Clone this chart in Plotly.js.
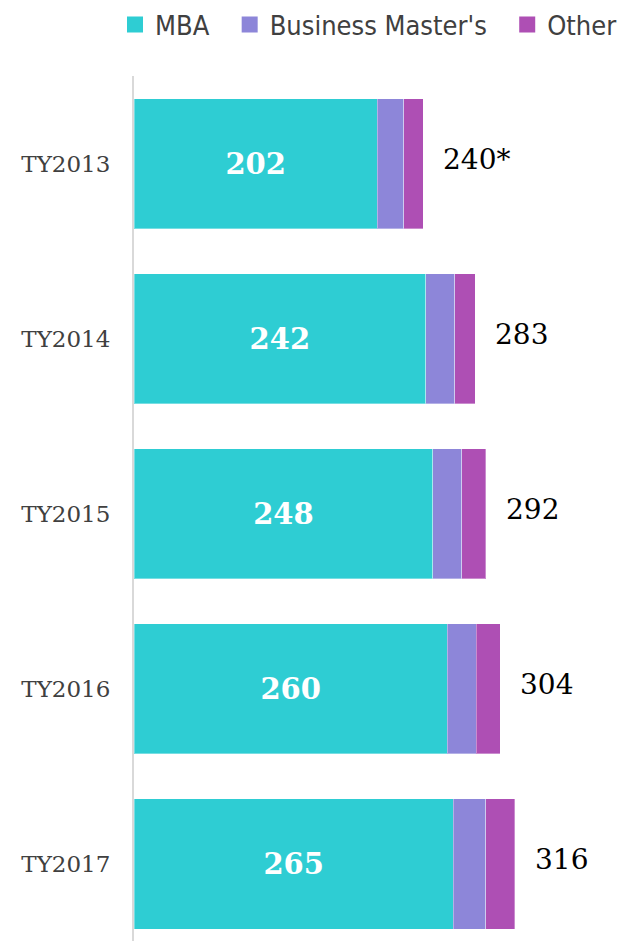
<!DOCTYPE html>
<html>
<head>
<meta charset="utf-8">
<script src="https://cdn.plot.ly/plotly-3.0.1.min.js"></script>
<style>
html,body{margin:0;padding:0;background:#fff;}
#chart{width:622px;height:941px;}
</style>
</head>
<body>
<div id="chart"></div>
<script>
const categories = ['TY2013','TY2014','TY2015','TY2016','TY2017'];
const mba = [202, 242, 248, 260, 265];
const businessMasters = [22, 24, 24, 24, 27];
const other = [16, 17, 20, 20, 24];
const totals = [240, 283, 292, 304, 316];
const totalNotes = ['*', '', '', '', ''];
const seriesNames = ['MBA', "Business Master's", 'Other'];
const colors = ['#2ECDD3', '#8D86D9', '#AE4FB4'];

const serif = '"DejaVu Serif", "Liberation Serif", serif';
const sans = '"DejaVu Sans Condensed", "Liberation Sans Narrow", "DejaVu Sans", sans-serif';

const segLine = {color: 'rgba(255,255,255,0.35)', width: 1};
const pad = '\u00A0\u00A0';

const barValues = [mba, businessMasters, other];
const traces = barValues.map((vals, k) => {
  const t = {
    type: 'bar', orientation: 'h', name: seriesNames[k],
    y: categories, x: vals,
    marker: {color: colors[k], line: segLine},
    showlegend: false, hoverinfo: 'none'
  };
  if (k === 0) {
    t.text = vals.map(String);
    t.textposition = 'inside';
    t.insidetextanchor = 'middle';
    t.textfont = {family: serif, size: 29, color: '#ffffff', weight: 'bold'};
  }
  return t;
});

// legend entries (square swatches) for the three series
seriesNames.forEach((n, k) => {
  traces.push({
    type: 'scatter', mode: 'markers', name: n + (k < seriesNames.length - 1 ? pad : ''),
    x: [null], y: [null],
    marker: {symbol: 'square', size: 16, color: colors[k]},
    showlegend: true, hoverinfo: 'none'
  });
});

const annotations = categories.map((c, i) => ({
  xref: 'x', yref: 'y', x: totals[i], y: c,
  text: String(totals[i]) + totalNotes[i],
  showarrow: false, xanchor: 'left', yanchor: 'middle',
  xshift: 18, yshift: 4,
  font: {family: serif, size: 28, color: '#000000'}
}));

const layout = {
  width: 622, height: 941,
  margin: {l: 134, r: 6, t: 76, b: 0, pad: 0},
  barmode: 'stack',
  bargap: 0.257,
  paper_bgcolor: '#ffffff', plot_bgcolor: '#ffffff',
  showlegend: true,
  legend: {
    orientation: 'h', x: -0.019, xanchor: 'left', y: 1.059, yanchor: 'middle',
    font: {family: sans, size: 27, color: '#404040'},
    traceorder: 'normal', itemclick: false, itemdoubleclick: false
  },
  xaxis: {
    range: [0, 400], visible: false, showgrid: false, zeroline: false, fixedrange: true
  },
  yaxis: {
    type: 'category', categoryorder: 'array', categoryarray: categories,
    range: [4.44, -0.5],
    showline: true, linecolor: '#D9D9D9', linewidth: 2,
    showgrid: false, zeroline: false,
    ticks: 'outside', ticklen: 17, tickcolor: 'rgba(0,0,0,0)',
    tickfont: {family: serif, size: 23, color: '#404040'},
    fixedrange: true
  },
  annotations: annotations
};

Plotly.newPlot('chart', traces, layout, {displayModeBar: false, staticPlot: true});
</script>
</body>
</html>
